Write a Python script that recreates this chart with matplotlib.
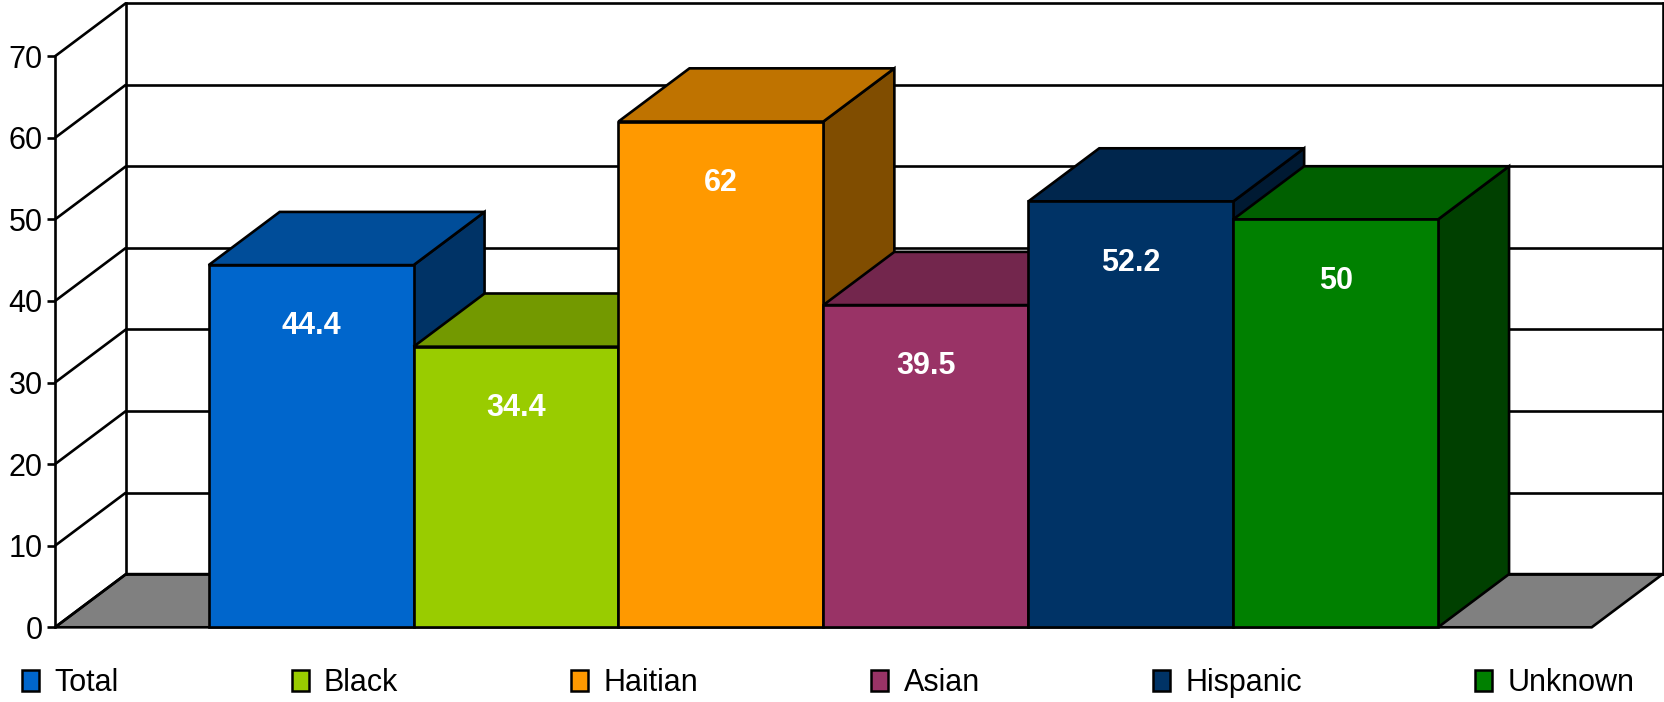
import matplotlib
matplotlib.use('Agg')
import matplotlib.pyplot as plt
from matplotlib.patches import Patch
from matplotlib.colors import to_rgb

# ---- data ----
categories = ['Total', 'Black', 'Haitian', 'Asian', 'Hispanic', 'Unknown']
values = [44.4, 34.4, 62, 39.5, 52.2, 50]
front_colors = ['#0066CC', '#99CC00', '#FF9900', '#993366', '#003366', '#008000']
y_ticks = [0, 10, 20, 30, 40, 50, 60, 70]

plt.rcParams['font.family'] = ['Liberation Sans', 'DejaVu Sans']


def shade(c, f):
    r, g, b = to_rgb(c)
    return (r * f, g * f, b * f)


# ---- geometry (in data units) ----
GAP = 0.75          # space between plot edge and first/last bar (category units)
DX = 0.3465         # depth offset in x (category units)
DY = 6.52           # depth offset in y (value units)
YMAX = y_ticks[-1]
n = len(values)
x0 = -0.5 - GAP
x1 = n - 0.5 + GAP
LW = 1.9

fig = plt.figure(figsize=(16.65, 7.02), dpi=100)
ax = fig.add_axes([55 / 1665, (702 - 627.3) / 702, 0.9656, 0.8892])
ax.set_xlim(x0, x1 + DX)
ax.set_ylim(0, YMAX + DY)

# floor
ax.fill([x0, x1, x1 + DX, x0 + DX], [0, 0, DY, DY], facecolor='#808080',
        edgecolor='black', lw=LW, zorder=1, clip_on=False, joinstyle='miter')

# back wall and left-wall grid lines
for t in y_ticks:
    ax.plot([x0, x0 + DX], [t, t + DY], color='black', lw=LW, zorder=2,
            clip_on=False, solid_capstyle='butt')
    ax.plot([x0 + DX, x1 + DX], [t + DY, t + DY], color='black', lw=LW,
            zorder=2, clip_on=False, solid_capstyle='projecting')
for xb in (x0 + DX, x1 + DX):
    ax.plot([xb, xb], [DY, YMAX + DY], color='black', lw=LW, zorder=2,
            clip_on=False, solid_capstyle='projecting')

# bars (painter's order left to right: side, top, front)
z = 3
for i, (v, c) in enumerate(zip(values, front_colors)):
    l, r = i - 0.5, i + 0.5
    ax.fill([r, r + DX, r + DX, r], [0, DY, v + DY, v], facecolor=shade(c, 0.5),
            edgecolor='black', lw=LW, zorder=z, joinstyle='miter')
    ax.fill([l, r, r + DX, l + DX], [v, v, v + DY, v + DY], facecolor=shade(c, 0.75),
            edgecolor='black', lw=LW, zorder=z + 1, joinstyle='miter')
    ax.fill([l, r, r, l], [0, 0, v, v], facecolor=c, edgecolor='black', lw=LW,
            zorder=z + 2, clip_on=False, joinstyle='miter')
    ax.text(i, v - 7.5, f'{v:g}', ha='center', va='center', color='white',
            fontweight='bold', fontsize=22, zorder=z + 3)
    z += 4

# axes styling: use the left spine as the front value axis
for s in ('top', 'right', 'bottom'):
    ax.spines[s].set_visible(False)
ax.spines['left'].set_bounds(0, YMAX)
ax.spines['left'].set_linewidth(LW)
ax.spines['left'].set_zorder(50)
ax.set_yticks(y_ticks)
ax.set_yticklabels([str(t) for t in y_ticks])
ax.tick_params(axis='y', direction='out', length=5.8, width=LW, pad=3,
               labelsize=22, colors='black')
ax.set_xticks([])
ax.patch.set_visible(False)

# legend
handles = [Patch(facecolor=c, edgecolor='black', lw=1.8) for c in front_colors]
fig.legend(handles, categories, ncol=n, loc='center left',
           bbox_to_anchor=(22 / 1665, 1 - 683 / 702), frameon=False,
           handlelength=0.56, handleheight=0.7, handletextpad=0.5,
           columnspacing=5.66, borderpad=0, borderaxespad=0, fontsize=22)

fig.savefig('out.png', dpi=100)
